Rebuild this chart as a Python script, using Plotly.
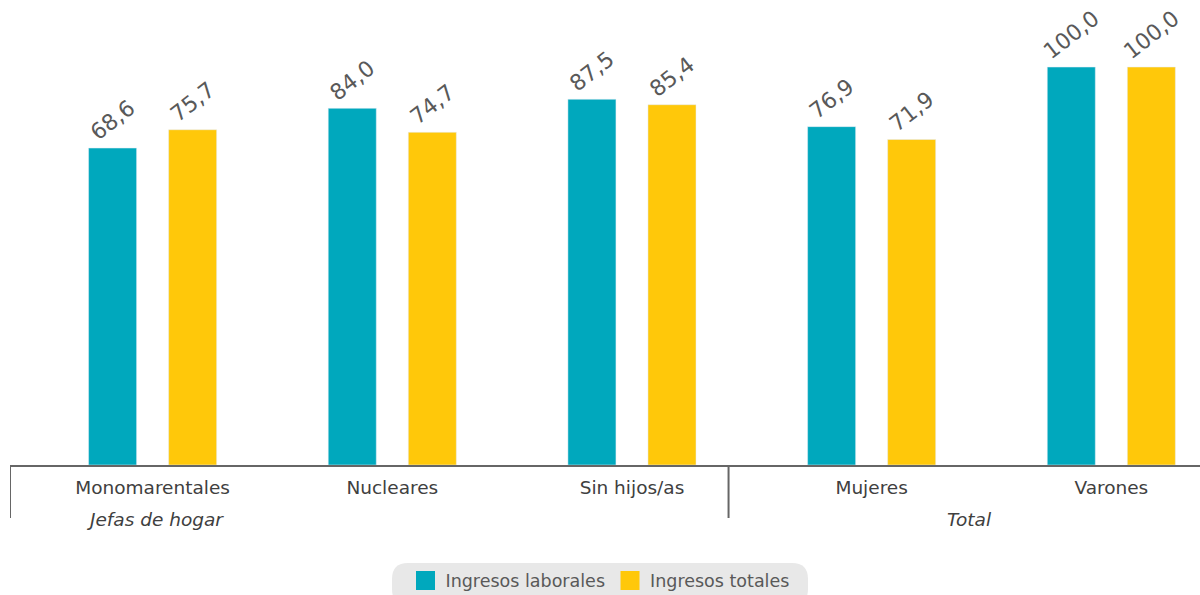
import plotly.graph_objects as go

categories = ["Monomarentales", "Nucleares", "Sin hijos/as", "Mujeres", "Varones"]
groups = ["Jefas de hogar", "Total"]
ingresos_laborales = [68.6, 84.0, 87.5, 76.9, 100.0]
ingresos_totales = [75.7, 74.7, 85.4, 71.9, 100.0]
series_names = ["Ingresos laborales", "Ingresos totales"]

TEAL = "#00A8BD"
YELLOW = "#FFC80A"
GRAY = "#595959"
DARK = "#404040"
FONT = "DejaVu Sans"
Y_MIN = -54.3
Y_MAX = 126

def fmt(v):
    return f"{v:.1f}".replace(".", ",")

fig = go.Figure()
for name, vals, col in [(series_names[0], ingresos_laborales, TEAL),
                        (series_names[1], ingresos_totales, YELLOW)]:
    fig.add_trace(go.Bar(
        x=categories, y=[v - Y_MIN for v in vals], base=Y_MIN,
        name=name, marker_color=col, showlegend=False,
        text=[fmt(v) for v in vals], textposition="outside",
        textangle=-38, textfont=dict(size=22, color=GRAY, family=FONT),
        constraintext="none", cliponaxis=False,
    ))
    fig.add_trace(go.Scatter(
        x=[None], y=[None], mode="markers", name=name,
        marker=dict(symbol="square", size=16, color=col,
                    line=dict(width=3, color=col)),
    ))

fig.update_layout(
    width=1200, height=595,
    margin=dict(l=10, r=0, t=0, b=130),
    plot_bgcolor="white", paper_bgcolor="white",
    barmode="group", bargap=0.332, bargroupgap=0.4,
    font=dict(family=FONT, color=GRAY),
    xaxis=dict(
        type="category", range=[-0.595, 4.37],
        showline=True, linecolor="#666666", linewidth=2,
        ticks="", showgrid=False, zeroline=False,
        tickfont=dict(size=18.5, color=DARK, family=FONT),
        ticklabelstandoff=5,
    ),
    yaxis=dict(range=[Y_MIN, Y_MAX], visible=False, showgrid=False, zeroline=False),
    legend=dict(
        orientation="h", xref="container", yref="container",
        x=0.5, xanchor="center", y=0.0545, yanchor="top",
        bgcolor="rgba(0,0,0,0)",
        font=dict(size=17.5, color=GRAY, family=FONT),
        itemsizing="trace", itemwidth=30,
    ),
)

# group dividers
for xd in [-0.595, 2.403]:
    fig.add_shape(type="line", xref="x", yref="paper", x0=xd, x1=xd, y0=0, y1=-0.114,
                  line=dict(color="#666666", width=2))

# group labels
fig.add_annotation(x=0.01, y=-0.118, xref="x", yref="paper", text=f"<i>{groups[0]}</i>",
                   showarrow=False, yanchor="middle",
                   font=dict(size=18.5, color=DARK, family=FONT))
fig.add_annotation(x=3.41, y=-0.118, xref="x", yref="paper", text=f"<i>{groups[1]}</i>",
                   showarrow=False, yanchor="middle",
                   font=dict(size=18.5, color=DARK, family=FONT))

# legend pill background
x0, x1 = (392 - 10) / 1190, (808 - 10) / 1190
y0, y1 = (465 - 563) / 465, (465 - 605) / 465
rx, ry = 16 / 1190, 16 / 465
path = (f"M{x0+rx},{y0} L{x1-rx},{y0} Q{x1},{y0} {x1},{y0-ry} L{x1},{y1+ry} "
        f"Q{x1},{y1} {x1-rx},{y1} L{x0+rx},{y1} Q{x0},{y1} {x0},{y1+ry} "
        f"L{x0},{y0-ry} Q{x0},{y0} {x0+rx},{y0} Z")
fig.add_shape(type="path", path=path, xref="paper", yref="paper",
              fillcolor="#E8E8E8", line=dict(width=0), layer="below")

fig.write_html("out.html")
